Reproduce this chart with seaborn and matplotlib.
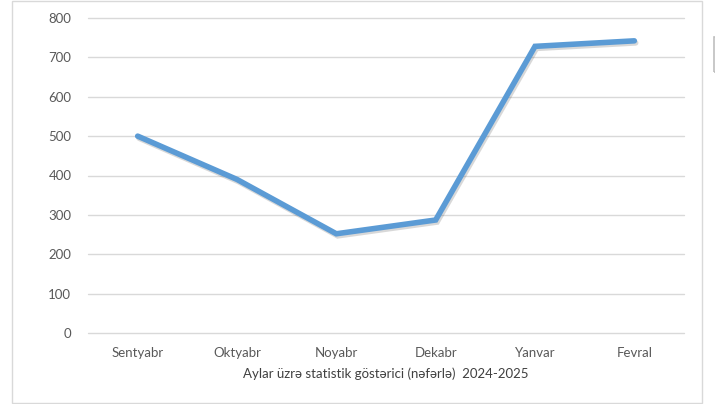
import matplotlib
matplotlib.use("Agg")
import matplotlib.pyplot as plt
import matplotlib.patheffects as pe
from matplotlib.patches import Rectangle
import seaborn as sns
import pandas as pd

aylar = ["Sentyabr", "Oktyabr", "Noyabr", "Dekabr", "Yanvar", "Fevral"]
say = [500, 390, 252, 287, 728, 742]
y_ticks = [0, 100, 200, 300, 400, 500, 600, 700, 800]

df = pd.DataFrame({"Ay": aylar, "Say": say})

sns.set_theme(style="white")
plt.rcParams["font.family"] = ["Lato", "DejaVu Sans"]

fig = plt.figure(figsize=(7.15, 4.04), dpi=100)
ax = fig.add_axes([88 / 715, 71 / 404, 596 / 715, 315 / 404])

sns.lineplot(data=df, x="Ay", y="Say", ax=ax, sort=False, color="#5B9BD5",
             linewidth=4.0, solid_capstyle="round", solid_joinstyle="miter",
             path_effects=[pe.SimpleLineShadow(offset=(1.0, -1.5), alpha=0.2, shadow_color="#404040"),
                           pe.Normal()])

ax.set_xlim(-0.5, len(aylar) - 0.5)
ax.set_ylim(0, 800)
ax.set_yticks(y_ticks)
ax.yaxis.grid(True, color="#d9d9d9", linewidth=1)
for gl in ax.get_ygridlines():
    gl.set_clip_on(False)
ax.set_axisbelow(True)
for s in ax.spines.values():
    s.set_visible(False)
ax.tick_params(axis="both", length=0, colors="#595959", labelsize=9.5)
ax.tick_params(axis="x", pad=10)
ax.tick_params(axis="y", pad=12)
ax.set_ylabel("")
ax.set_xlabel("Aylar üzrə statistik göstərici (nəfərlə)  2024-2025", color="#404040",
              fontsize=9.5, labelpad=6)

# chart border and clipped legend box
fig.patches.append(Rectangle((12 / 715, 1 / 404), 690 / 715, 402 / 404, transform=fig.transFigure,
                             fill=False, edgecolor="#d9d9d9", linewidth=1))
fig.patches.append(Rectangle((714 / 715, 332 / 404), 10 / 715, 35 / 404, transform=fig.transFigure,
                             fill=False, edgecolor="#bfbfbf", linewidth=1.2))

fig.savefig("out.png", dpi=100)
